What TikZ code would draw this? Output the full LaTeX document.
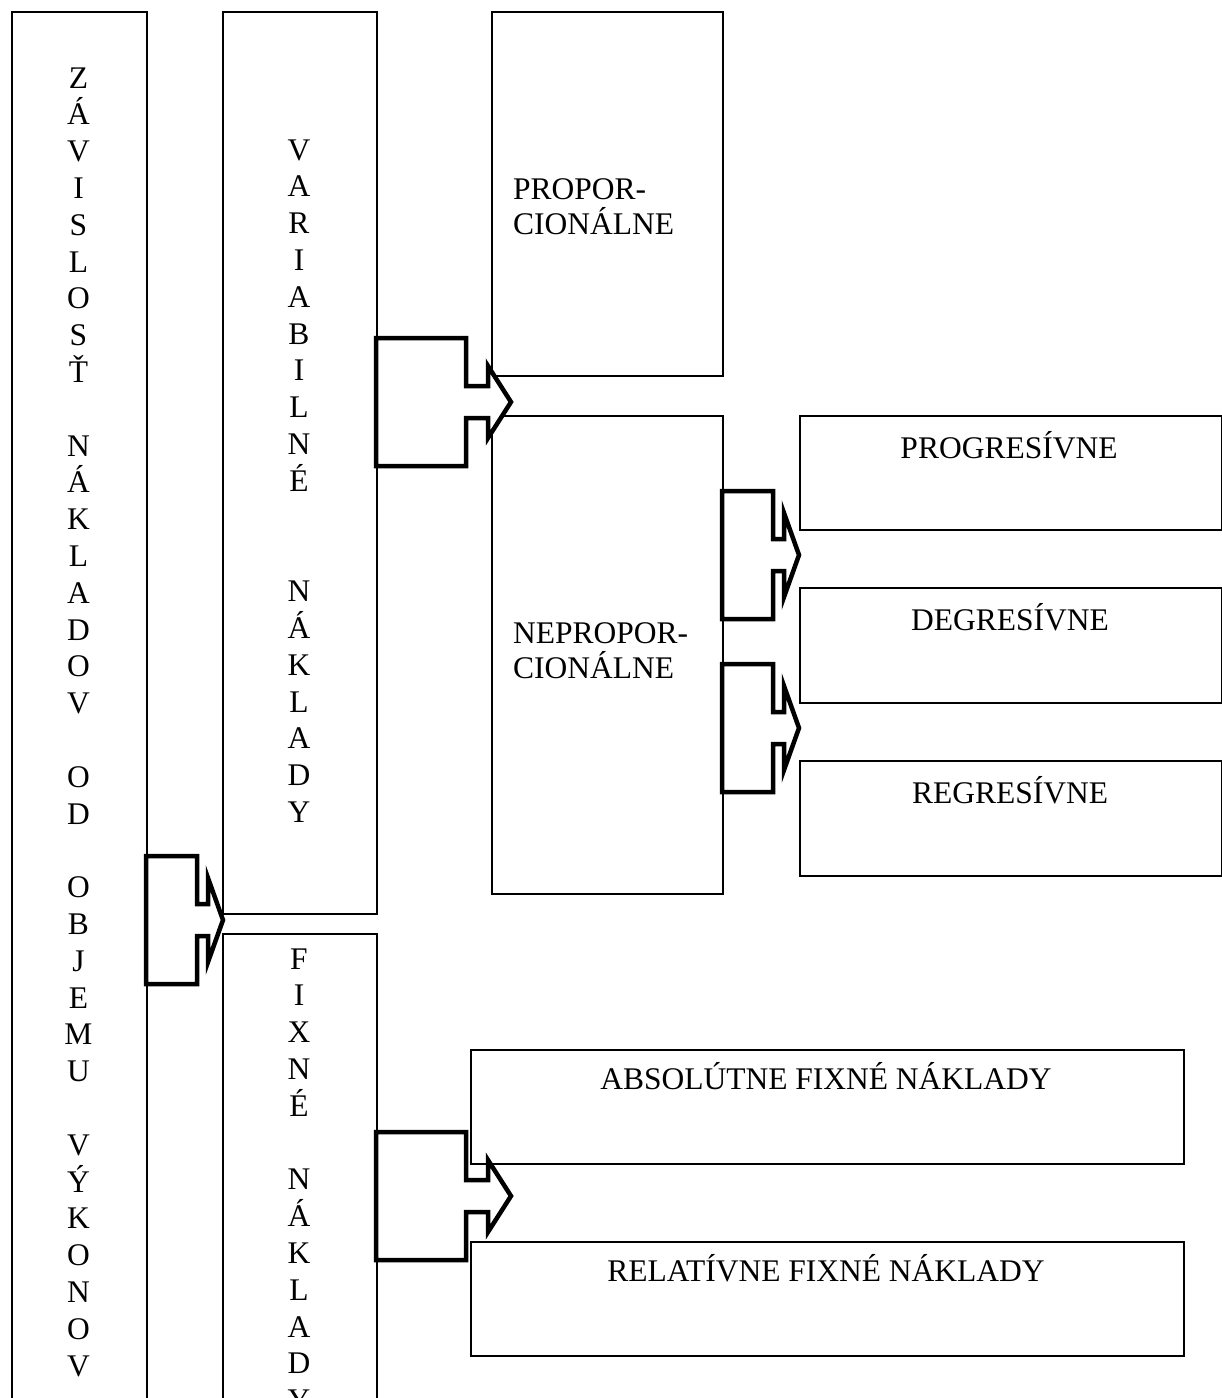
\documentclass[tikz,border=0pt]{standalone}
\usepackage{fontspec}
\setmainfont{Liberation Serif}

\begin{document}
\begin{tikzpicture}[x=1pt, y=-1pt,
    every node/.style={font=\fontsize{31.5}{36.8}\selectfont, inner sep=0pt},
    box/.style={draw, line width=1.5pt, rectangle, anchor=north west},
    vtext/.style={anchor=base, align=center},
    htext/.style={anchor=base west, align=left, font=\fontsize{31.5}{35.5}\selectfont},
    pics/bigarrow/.style n args={4}{code={
        \draw[line width=4.5pt, fill=white] (0,0) -- ++(-#1,-#2) -- ++(0,#2-16) -- ++(-#3,0)
            -- ++(0,-48) -- ++(-#4,0) -- ++(0,128) -- ++(#4,0) -- ++(0,-48) -- ++(#3,0)
            -- ++(0,#2-16) -- cycle;
    }}]
    \useasboundingbox (0,0) rectangle (1222,1398);

    % boxes
    \node[box, minimum width=135, minimum height=1500] (dep) at (11,11) {};
    \node[box, minimum width=154, minimum height=902] (var) at (222,11) {};
    \node[box, minimum width=154, minimum height=600] (fix) at (222,933) {};
    \node[box, minimum width=231, minimum height=364] (prop) at (491,11) {};
    \node[box, minimum width=231, minimum height=478] (neprop) at (491,415) {};
    \node[box, minimum width=422, minimum height=114] (prog) at (799,415) {};
    \node[box, minimum width=422, minimum height=115] (deg) at (799,587) {};
    \node[box, minimum width=422, minimum height=115] (reg) at (799,760) {};
    \node[box, minimum width=713, minimum height=114] (abs) at (470,1049) {};
    \node[box, minimum width=713, minimum height=114] (rel) at (470,1241) {};

    % texts (base = last line)
    \node[vtext] (deptext) at (78.5,1376) {Z\\Á\\V\\I\\S\\L\\O\\S\\Ť\\~\\N\\Á\\K\\L\\A\\D\\O\\V\\~\\O\\D\\~\\O\\B\\J\\E\\M\\U\\~\\V\\Ý\\K\\O\\N\\O\\V};
    \node[vtext] (vartext) at (299,822.4) {V\\A\\R\\I\\A\\B\\I\\L\\N\\É\\~\\~\\N\\Á\\K\\L\\A\\D\\Y};
    \node[vtext] (fixtext) at (299,1410.6) {F\\I\\X\\N\\É\\~\\N\\Á\\K\\L\\A\\D\\Y};
    \node[htext] (proptext) at (513,234.5) {PROPOR-\\CIONÁLNE};
    \node[htext] (neproptext) at (513,678.5) {NEPROPOR-\\CIONÁLNE};
    \node[anchor=base] (progtext) at (1009,458) {PROGRESÍVNE};
    \node[anchor=base] (degtext) at (1010,630) {DEGRESÍVNE};
    \node[anchor=base] (regtext) at (1010,803) {REGRESÍVNE};
    \node[anchor=base] (abstext) at (826,1089) {ABSOLÚTNE FIXNÉ NÁKLADY};
    \node[anchor=base] (reltext) at (826,1281) {RELATÍVNE FIXNÉ NÁKLADY};

    % arrows
    \coordinate (t1) at (223,920);
    \coordinate (t2) at (511,402);
    \coordinate (t3) at (511,1196);
    \coordinate (t4) at (799,555);
    \coordinate (t5) at (799,728);
    \pic at (t1) {bigarrow={15}{42}{11}{51}};
    \pic at (t2) {bigarrow={23}{36}{22}{90}};
    \pic at (t3) {bigarrow={23}{36}{22}{90}};
    \pic at (t4) {bigarrow={15}{42}{11}{51}};
    \pic at (t5) {bigarrow={15}{42}{11}{51}};
\end{tikzpicture}
\end{document}
